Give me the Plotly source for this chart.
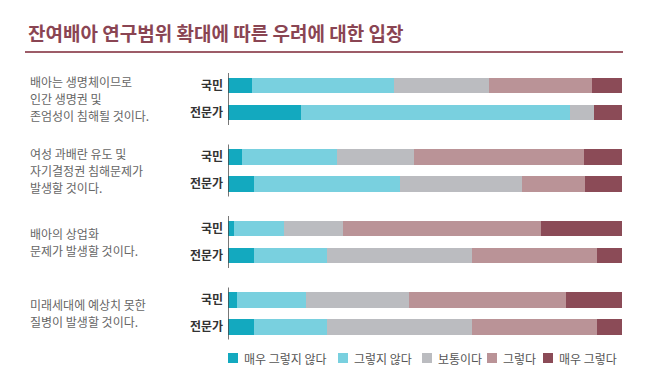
import plotly.graph_objects as go

title = "잔여배아 연구범위 확대에 따른 우려에 대한 입장"
statements = [
    ["배아는 생명체이므로", "인간 생명권 및", "존엄성이 침해될 것이다."],
    ["여성 과배란 유도 및", "자기결정권 침해문제가", "발생할 것이다."],
    ["배아의 상업화", "문제가 발생할 것이다."],
    ["미래세대에 예상치 못한", "질병이 발생할 것이다."],
]
respondents = ["국민", "전문가"]
series_names = ["매우 그렇지 않다", "그렇지 않다", "보통이다", "그렇다", "매우 그렇다"]
colors = ["#13a9bf", "#79d0df", "#bbbcc0", "#ba9397", "#8b4b57"]

# values per statement: [국민, 전문가]
very_disagree = [[6.0, 18.6], [3.5, 6.6], [1.6, 6.6], [2.4, 6.6]]
disagree = [[36.2, 68.2], [24.3, 37.2], [12.6, 18.5], [17.5, 18.5]]
neutral = [[24.2, 6.2], [19.5, 30.8], [14.9, 37.0], [26.0, 37.0]]
agree = [[26.0, 0.0], [43.2, 16.0], [50.3, 31.6], [39.9, 31.6]]
very_agree = [[7.7, 7.0], [9.5, 9.5], [20.6, 6.3], [14.2, 6.3]]
series_values = [very_disagree, disagree, neutral, agree, very_agree]

GROUP_STEP = 2.668
FONT = "Noto Sans CJK KR"
W, H = 650, 378
L, R = 228, 28
PW = W - L - R

def px(x):
    return (x - L) / PW

ypos, ytext = [], []
for g in range(len(statements)):
    for m, r in enumerate(respondents):
        ypos.append(g * GROUP_STEP + m)
        ytext.append(f"<b>{r}</b>")

fig = go.Figure()
for name, col, vals in zip(series_names, colors, series_values):
    xs = [v for pair in vals for v in pair]
    fig.add_trace(go.Bar(
        x=xs, y=ypos, orientation="h", name=name,
        marker=dict(color=col, line=dict(width=0)),
        width=0.58, hoverinfo="skip", showlegend=False,
    ))

shapes = []
annotations = []
for g, lines in enumerate(statements):
    base = g * GROUP_STEP
    shapes.append(dict(type="line", xref="x", yref="y", x0=0, x1=0,
                       y0=base - 0.47, y1=base + 1.47,
                       line=dict(color="#4a4a4a", width=1.5)))
    center = base + 0.5
    n = len(lines)
    for i, txt in enumerate(lines):
        yy = center + (i - (n - 1) / 2) * 0.634
        annotations.append(dict(text=txt, xref="paper", yref="y",
                                x=px(28), y=yy, xanchor="left",
                                yanchor="middle", showarrow=False,
                                font=dict(family=FONT, size=12, color="#666666")))

# title
annotations.append(dict(text=f"<b>{title}</b>", xref="paper", yref="paper",
                        x=px(26), y=1 - 32 / H, xanchor="left",
                        yanchor="middle", showarrow=False,
                        font=dict(family=FONT, size=19, color="#8a4553")))

# title underline
shapes.append(dict(type="line", xref="paper", yref="paper",
                   x0=px(25), x1=px(623), y0=1 - 52 / H, y1=1 - 52 / H,
                   line=dict(color="#9d5c68", width=2)))

# manual legend (squares + labels)
legend_sq_x = [228, 338, 422, 487, 543]
legend_y = 1 - 358 / H
sq = 10
for name, col, x0 in zip(series_names, colors, legend_sq_x):
    shapes.append(dict(type="rect", xref="paper", yref="paper",
                       x0=px(x0), x1=px(x0 + sq),
                       y0=legend_y - (sq / 2) / H, y1=legend_y + (sq / 2) / H,
                       fillcolor=col, line=dict(width=0)))
    annotations.append(dict(text=name, xref="paper", yref="paper",
                            x=px(x0 + sq + 4), y=legend_y, xanchor="left",
                            yanchor="middle", showarrow=False,
                            font=dict(family=FONT, size=12, color="#555555")))

fig.update_layout(
    width=W, height=H,
    margin=dict(l=L, r=R, t=0, b=0, autoexpand=False),
    paper_bgcolor="white", plot_bgcolor="white",
    barmode="stack",
    font=dict(family=FONT),
    xaxis=dict(range=[0, 100.1], showgrid=False, zeroline=False,
               showticklabels=False, showline=False, fixedrange=True),
    yaxis=dict(range=[10.914, -3.19], tickvals=ypos, ticktext=ytext,
               showgrid=False, zeroline=False, showline=False, ticks="",
               ticklabelstandoff=4, fixedrange=True,
               tickfont=dict(family=FONT, size=12, color="#333333")),
    showlegend=False,
    shapes=shapes, annotations=annotations,
)

fig.write_html("out.html", config={"displayModeBar": False},
               post_script="document.body.style.margin='0';")
